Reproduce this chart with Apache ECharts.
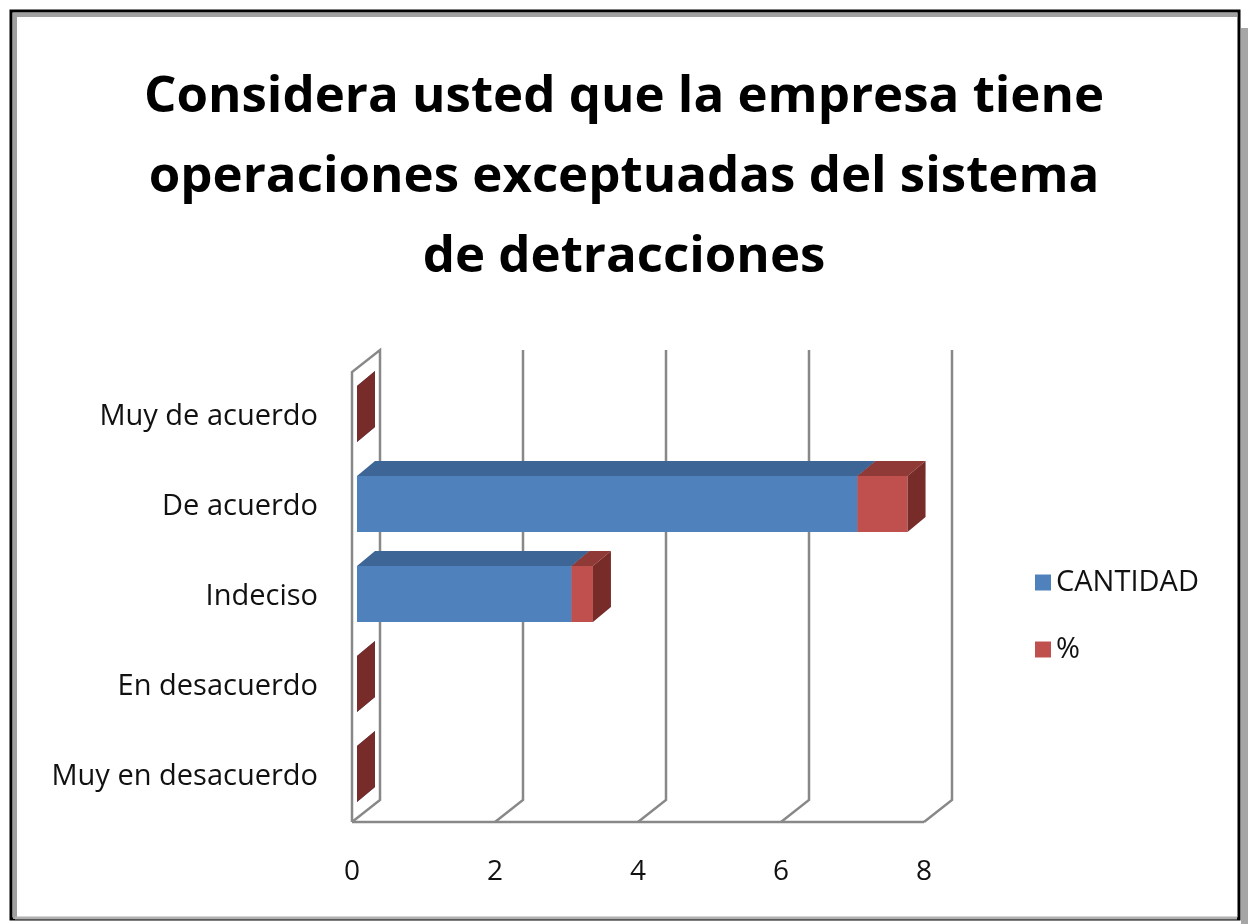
<!DOCTYPE html>
<html>
<head>
<meta charset="utf-8">
<script src="https://cdn.jsdelivr.net/npm/echarts@6/dist/echarts.min.js"></script>
<style>
  html, body { margin: 0; padding: 0; background: #fff; }
  #main { width: 1248px; height: 924px; }
</style>
</head>
<body>
<div id="main"></div>
<script>
// datos del grafico
var categorias = ['Muy de acuerdo', 'De acuerdo', 'Indeciso', 'En desacuerdo', 'Muy en desacuerdo']
var cantidad = [0, 7, 3, 0, 0]
var porcentaje = [0, 0.7, 0.3, 0, 0]
var ticksX = [0, 2, 4, 6, 8]

var FONT = '"Open Sans", "Noto Sans", sans-serif'
// profundidad de la caja 3D y de las barras
var WALL_DX = 28, WALL_DY = -22
var BAR_OX = 5, BAR_OY = -3
var BAR_DX = 18, BAR_DY = -15

function barData(startArr, lenArr) {
  return lenArr.map(function (v, i) {
    var s = startArr ? startArr[i] : 0
    return [i, s, s + v]
  })
}

function renderBar(front, top, side) {
  return function (params, api) {
    var cat = api.value(0)
    var p0 = api.coord([api.value(1), cat])
    var p1 = api.coord([api.value(2), cat])
    var h = api.size([0, 1])[1] * 0.62
    var x0 = p0[0] + BAR_OX, x1 = p1[0] + BAR_OX
    var yc = p0[1] + BAR_OY
    var yt = yc - h / 2, yb = yc + h / 2
    return {
      type: 'group',
      children: [
        { type: 'rect', shape: { x: x0, y: yt, width: x1 - x0, height: h }, style: { fill: front } },
        { type: 'polygon', shape: { points: [[x0, yt], [x1, yt], [x1 + BAR_DX, yt + BAR_DY], [x0 + BAR_DX, yt + BAR_DY]] }, style: { fill: top } },
        { type: 'polygon', shape: { points: [[x1, yt], [x1 + BAR_DX, yt + BAR_DY], [x1 + BAR_DX, yb + BAR_DY], [x1, yb]] }, style: { fill: side } }
      ]
    }
  }
}

function renderWalls(params, api) {
  var cs = params.coordSys
  var top = cs.y, bot = cs.y + cs.height
  var ln = { fill: 'none', stroke: '#888', lineWidth: 2.5 }
  var kids = []
  var x0 = api.coord([ticksX[0], 0])[0]
  var xN = api.coord([ticksX[ticksX.length - 1], 0])[0]
  // pared izquierda
  kids.push({ type: 'polyline', shape: { points: [[x0, bot], [x0, top], [x0 + WALL_DX, top + WALL_DY], [x0 + WALL_DX, bot + WALL_DY], [x0, bot]] }, style: ln })
  // piso frontal
  kids.push({ type: 'line', shape: { x1: x0, y1: bot, x2: xN, y2: bot }, style: ln })
  ticksX.forEach(function (t, k) {
    if (k === 0) return
    var x = api.coord([t, 0])[0]
    kids.push({ type: 'polyline', shape: { points: [[x, bot], [x + WALL_DX, bot + WALL_DY], [x + WALL_DX, top + WALL_DY]] }, style: ln })
  })
  return { type: 'group', children: kids }
}

var chart = echarts.init(document.getElementById('main'))
var option = {
  backgroundColor: '#fff',
  animation: false,
  title: {
    text: 'Considera usted que la empresa tiene\noperaciones exceptuadas del sistema\nde detracciones',
    left: 'center',
    top: 52,
    textStyle: { fontFamily: FONT, fontWeight: 'bold', fontSize: 51, lineHeight: 80, color: '#000' }
  },
  legend: {
    data: ['CANTIDAD', '%'],
    orient: 'vertical',
    left: 1030,
    top: 563,
    icon: 'rect',
    itemWidth: 16,
    itemHeight: 16,
    itemGap: 38,
    textStyle: { fontFamily: FONT, fontSize: 29, color: '#111' }
  },
  grid: { left: 352, right: 324, top: 372, bottom: 102 },
  xAxis: {
    type: 'value',
    min: 0,
    max: 8,
    interval: 2,
    axisLine: { show: false },
    axisTick: { show: false },
    splitLine: { show: false },
    axisLabel: { margin: 36, fontFamily: FONT, fontSize: 28, color: '#111' }
  },
  yAxis: {
    type: 'category',
    data: categorias,
    inverse: true,
    axisLine: { show: false },
    axisTick: { show: false },
    axisLabel: { margin: 34, fontFamily: FONT, fontSize: 29, color: '#111' }
  },
  series: [
    {
      type: 'custom',
      name: 'paredes',
      silent: true,
      z: 1,
      renderItem: renderWalls,
      data: [[0, 0, 0]],
      encode: { x: [1, 2], y: 0 }
    },
    {
      type: 'custom',
      name: 'CANTIDAD',
      z: 2,
      itemStyle: { color: '#4f81bd' },
      renderItem: renderBar('#4f81bd', '#3d6596', '#34567f'),
      data: barData(null, cantidad),
      encode: { x: [1, 2], y: 0 }
    },
    {
      type: 'custom',
      name: '%',
      z: 3,
      itemStyle: { color: '#c0504d' },
      renderItem: renderBar('#c0504d', '#8f3a37', '#772c2a'),
      data: barData(cantidad, porcentaje),
      encode: { x: [1, 2], y: 0 }
    }
  ],
  graphic: [
    { type: 'rect', shape: { x: 1241, y: 28, width: 7, height: 896 }, style: { fill: '#a6a6a6' }, silent: true },
    { type: 'rect', shape: { x: 11, y: 11, width: 1228, height: 908 }, style: { fill: 'none', stroke: '#000', lineWidth: 3 }, silent: true },
    { type: 'polyline', shape: { points: [[15, 919], [15, 15], [1237, 15]] }, style: { fill: 'none', stroke: '#a0a0a0', lineWidth: 4 }, silent: true },
    { type: 'line', shape: { x1: 15, y1: 918, x2: 1237, y2: 918 }, style: { stroke: '#b0b0b0', lineWidth: 3 }, silent: true }
  ]
}
chart.setOption(option)
</script>
</body>
</html>
